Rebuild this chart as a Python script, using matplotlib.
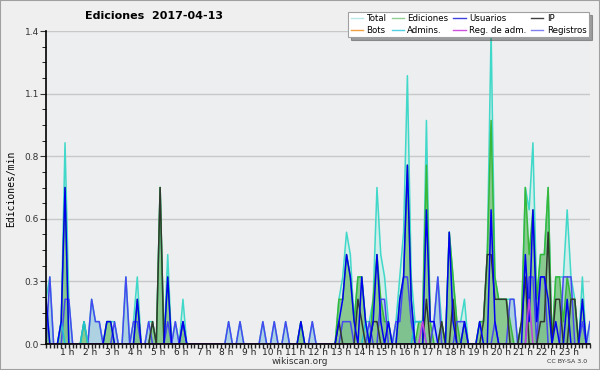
import numpy as np
import matplotlib
matplotlib.use("Agg")
import matplotlib.pyplot as plt
import matplotlib.transforms as mtransforms
from matplotlib.lines import Line2D
from matplotlib.patches import Rectangle

# edits per 10-minute slot, one row per hour (divided by 10 -> edits/min)
total = [2, 3, 0, 0, 1, 9,   2, 0, 0, 0, 1, 0,   2, 1, 1, 0, 1, 1,   1, 0, 0, 3, 0, 1,
         3, 0, 0, 1, 1, 0,   7, 0, 4, 0, 1, 0,   2, 0, 0, 0, 0, 0,   0, 0, 0, 0, 0, 0,
         1, 0, 0, 1, 0, 0,   0, 0, 0, 1, 0, 0,   1, 0, 0, 1, 0, 0,   0, 1, 0, 0, 1, 0,
         0, 0, 0, 0, 0, 2,   3, 5, 4, 1, 3, 3,   1, 1, 2, 7, 4, 3,   1, 0, 1, 3, 5, 12,
         3, 1, 1, 1, 10, 1,  1, 3, 1, 0, 5, 3,   1, 1, 2, 0, 0, 0,   1, 1, 4, 14, 3, 2,
         2, 2, 2, 2, 0, 1,   7, 6, 9, 2, 4, 4,   7, 0, 3, 3, 3, 6,   3, 2, 0, 3, 0, 1]
ediciones = [2, 0, 0, 0, 1, 7,   0, 0, 0, 0, 1, 0,   0, 0, 0, 0, 1, 1,   0, 0, 0, 0, 0, 0,
             2, 0, 0, 0, 1, 0,   7, 0, 3, 0, 0, 0,   1, 0, 0, 0, 0, 0,   0, 0, 0, 0, 0, 0,
             0, 0, 0, 0, 0, 0,   0, 0, 0, 0, 0, 0,   0, 0, 0, 0, 0, 0,   0, 1, 0, 0, 0, 0,
             0, 0, 0, 0, 0, 2,   2, 4, 3, 1, 3, 3,   1, 0, 2, 4, 2, 1,   1, 0, 0, 2, 3, 8,
             2, 0, 1, 1, 8, 1,   0, 0, 1, 0, 5, 3,   1, 0, 1, 0, 0, 0,   1, 1, 4, 10, 3, 2,
             2, 2, 1, 0, 0, 1,   7, 4, 6, 2, 4, 4,   7, 0, 3, 3, 1, 3,   2, 2, 0, 2, 0, 0]
usuarios = [2, 0, 0, 0, 1, 7,   0, 0, 0, 0, 0, 0,   0, 0, 0, 0, 1, 1,   0, 0, 0, 0, 0, 0,
            2, 0, 0, 0, 0, 0,   0, 0, 3, 0, 0, 0,   1, 0, 0, 0, 0, 0,   0, 0, 0, 0, 0, 0,
            0, 0, 0, 0, 0, 0,   0, 0, 0, 0, 0, 0,   0, 0, 0, 0, 0, 0,   0, 1, 0, 0, 0, 0,
            0, 0, 0, 0, 0, 1,   2, 4, 3, 1, 0, 3,   1, 0, 1, 4, 1, 0,   1, 0, 0, 2, 3, 8,
            2, 0, 0, 0, 6, 1,   1, 0, 0, 0, 5, 1,   0, 0, 1, 0, 0, 0,   1, 0, 0, 6, 1, 0,
            0, 0, 0, 0, 0, 0,   4, 1, 6, 1, 3, 3,   2, 0, 1, 0, 0, 2,   0, 0, 0, 2, 0, 0]
ip = [0, 0, 0, 0, 0, 0,   0, 0, 0, 0, 0, 0,   0, 0, 0, 0, 0, 0,   0, 0, 0, 0, 0, 0,
      0, 0, 0, 0, 1, 0,   7, 0, 0, 0, 0, 0,   0, 0, 0, 0, 0, 0,   0, 0, 0, 0, 0, 0,
      0, 0, 0, 0, 0, 0,   0, 0, 0, 0, 0, 0,   0, 0, 0, 0, 0, 0,   0, 0, 0, 0, 0, 0,
      0, 0, 0, 0, 0, 1,   0, 0, 0, 0, 2, 1,   0, 0, 1, 1, 0, 0,   0, 0, 0, 0, 0, 0,
      0, 0, 0, 0, 2, 0,   0, 0, 1, 0, 0, 2,   0, 0, 0, 0, 0, 0,   0, 1, 4, 4, 2, 2,
      2, 2, 0, 0, 0, 1,   3, 0, 0, 0, 1, 1,   5, 0, 2, 2, 0, 0,   2, 2, 0, 0, 0, 0]
registros = [0, 3, 0, 0, 0, 2,   2, 0, 0, 0, 0, 0,   2, 1, 1, 0, 0, 0,   1, 0, 0, 3, 0, 1,
             1, 0, 0, 1, 0, 0,   0, 0, 1, 0, 1, 0,   1, 0, 0, 0, 0, 0,   0, 0, 0, 0, 0, 0,
             1, 0, 0, 1, 0, 0,   0, 0, 0, 1, 0, 0,   1, 0, 0, 1, 0, 0,   0, 0, 0, 0, 1, 0,
             0, 0, 0, 0, 0, 0,   1, 1, 1, 0, 0, 0,   0, 1, 0, 0, 2, 2,   0, 0, 1, 1, 3, 3,
             1, 0, 0, 0, 0, 0,   1, 3, 0, 0, 0, 0,   1, 1, 1, 0, 0, 0,   0, 0, 0, 0, 1, 0,
             0, 0, 2, 2, 0, 0,   0, 3, 3, 0, 3, 3,   0, 0, 0, 0, 3, 3,   3, 0, 0, 1, 0, 1]
admins = [0, 0, 0, 0, 1, 0,   0, 0, 0, 0, 1, 0,   0, 0, 0, 0, 0, 0,   0, 0, 0, 0, 0, 0,
          0, 0, 0, 0, 0, 0,   0, 0, 0, 0, 0, 0,   0, 0, 0, 0, 0, 0,   0, 0, 0, 0, 0, 0,
          0, 0, 0, 0, 0, 0,   0, 0, 0, 0, 0, 0,   0, 0, 0, 0, 0, 0,   0, 0, 0, 0, 0, 0,
          0, 0, 0, 0, 0, 0,   0, 0, 0, 0, 0, 0,   1, 0, 0, 0, 0, 0,   0, 0, 0, 0, 0, 0,
          0, 1, 1, 1, 0, 0,   0, 0, 0, 0, 0, 0,   0, 0, 0, 0, 0, 0,   0, 0, 0, 0, 0, 0,
          0, 0, 0, 0, 0, 0,   0, 0, 0, 0, 0, 0,   0, 0, 0, 0, 0, 0,   0, 0, 0, 0, 0, 0]
reg_adm = [0, 0, 0, 0, 0, 0,   0, 0, 0, 0, 0, 0,   0, 0, 0, 0, 0, 0,   0, 0, 0, 0, 0, 0,
           0, 0, 0, 0, 0, 0,   0, 0, 0, 0, 0, 0,   0, 0, 0, 0, 0, 0,   0, 0, 0, 0, 0, 0,
           0, 0, 0, 0, 0, 0,   0, 0, 0, 0, 0, 0,   0, 0, 0, 0, 0, 0,   0, 0, 0, 0, 0, 0,
           0, 0, 0, 0, 0, 0,   0, 0, 0, 0, 0, 0,   0, 0, 0, 0, 0, 0,   0, 0, 0, 0, 0, 0,
           0, 0, 0, 1, 0, 0,   0, 0, 0, 0, 0, 0,   0, 0, 0, 0, 0, 0,   0, 0, 0, 0, 0, 0,
           0, 0, 0, 0, 0, 0,   0, 2, 0, 0, 0, 0,   0, 0, 0, 0, 0, 0,   0, 0, 0, 0, 0, 0]
bots = [0] * 144

hour_labels = [f"{h} h" for h in range(1, 24)]
ytick_vals = [0, 0.28, 0.56, 0.84, 1.12, 1.4]

x = np.arange(144)
to_min = lambda s: np.array(s, dtype=float) / 10.0


def area(ax, y, color, alpha, z):
    # closed polygon down to the baseline
    px = np.concatenate([[x[0]], x, [x[-1]]])
    py = np.concatenate([[0.0], y, [0.0]])
    ax.fill(px, py, facecolor=color, alpha=alpha, edgecolor="none", zorder=z)


fig = plt.figure(figsize=(6, 3.7), dpi=100, facecolor="#efefef")
fig.patches.append(Rectangle((0, 0), 1, 1, transform=fig.transFigure, fill=False,
                             edgecolor="#a0a0a0", linewidth=1.5))
ax = fig.add_axes([46 / 600, 1 - 344 / 370, 544 / 600, 313 / 370])
ax.set_facecolor("#eceef0")

# area fills
area(ax, to_min(total), "#bfeee6", 0.6, 3.0)
area(ax, to_min(registros), "#9cc4de", 0.65, 3.1)
area(ax, to_min(ediciones), "#6cbc6c", 0.7, 3.2)

# lines
lw = 1.1
ax.plot(x, to_min(total), color="#40d8c8", lw=lw, zorder=4)
ax.plot(x, to_min(ediciones), color="#38b838", lw=lw, zorder=5)
ax.plot(x, to_min(registros), color="#4848f0", lw=lw, zorder=6)
ax.plot(x, to_min(admins), color="#20c0d8", lw=lw, zorder=6)
ax.plot(x, to_min(bots), color="#f0a040", lw=lw, zorder=6)
ax.plot(x, to_min(ip), color="#303830", lw=lw, zorder=7)
ax.plot(x, to_min(usuarios), color="#0000f0", lw=lw, zorder=8)
ax.plot(x, to_min(reg_adm), color="#c040e0", lw=lw, zorder=9)

ax.set_xlim(0, 143)
ax.set_ylim(0, 1.4)

ax.set_yticks(ytick_vals)
ax.set_yticklabels([f"{v:.1f}" for v in ytick_vals])
ax.set_yticks(np.arange(0, 1.41, 0.07), minor=True)
ax.yaxis.grid(True, color="#c8c8c8", lw=1, zorder=0.5)
ax.tick_params(axis="y", which="major", length=4, labelsize=6.5, colors="#333333", pad=1)
ax.tick_params(axis="y", which="minor", length=3)

ax.set_xticks(np.arange(6, 144, 6))
ax.set_xticklabels(hour_labels)
ax.set_xticks(x, minor=True)
ax.tick_params(axis="x", which="both", length=3, width=1, labelsize=6.5, colors="#222222", pad=0)
shift = mtransforms.ScaledTranslation(-2 / 100, 0, fig.dpi_scale_trans)
for lab in ax.get_xticklabels():
    lab.set_transform(lab.get_transform() + shift)

for s in ["top", "right"]:
    ax.spines[s].set_visible(False)
for s in ["left", "bottom"]:
    ax.spines[s].set_linewidth(1.2)
    ax.spines[s].set_zorder(10)

fig.text(0.257, 0.957, "Ediciones  2017-04-13", ha="center", va="center",
         fontsize=8, fontweight="bold")
fig.text(0.018, 0.49, "Ediciones/min", rotation=90, ha="center", va="center",
         fontsize=7, family="DejaVu Sans Mono")
fig.text(0.5, 0.022, "wikiscan.org", ha="center", va="center", fontsize=6.5, color="#333333")
fig.text(0.945, 0.022, "CC BY-SA 3.0", ha="center", va="center", fontsize=4.5, color="#333333")

names = ["Total", "Bots", "Ediciones", "Admins.", "Usuarios", "Reg. de adm.", "IP", "Registros"]
colors = ["#b8e8e8", "#f0a040", "#90d090", "#50d0e0", "#4040e0", "#d050e0", "#404040", "#8080f0"]
handles = [Line2D([], [], color=c, lw=1) for c in colors]
leg = fig.legend(handles, names, ncol=4, loc="upper right", bbox_to_anchor=(0.982, 0.968),
                 fontsize=6.2, frameon=True, fancybox=False, shadow=True, handlelength=1.4,
                 handletextpad=0.4, columnspacing=0.6, labelspacing=0.25,
                 borderpad=0.3, borderaxespad=0)
leg.get_frame().set_edgecolor("#a0a0a0")
leg.get_frame().set_linewidth(0.8)
leg.get_frame().set_alpha(1)

fig.savefig("out.png", dpi=100, facecolor=fig.get_facecolor())
